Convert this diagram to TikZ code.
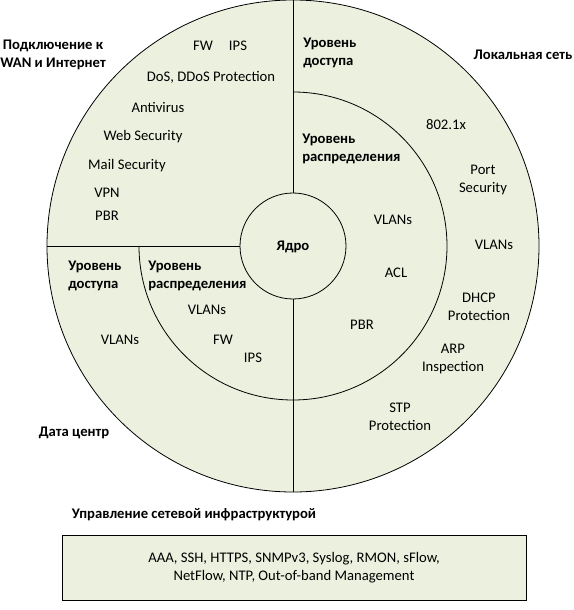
\documentclass[tikz,border=0pt]{standalone}
\usepackage{fontspec}
\setmainfont{Carlito}
\definecolor{ringfill}{RGB}{235,241,222}
\tikzset{
    lbl/.style={inner sep=0pt, align=center, font=\fontsize{11}{13.5}\selectfont},
    ttl/.style={lbl, font=\fontsize{11}{13.5}\selectfont\bfseries},
    ttlw/.style={ttl, align=left, anchor=west}
}
\begin{document}
\begin{tikzpicture}[x=0.75pt, y=0.75pt]
    \useasboundingbox (-293,-364) rectangle (281,246);

    \fill[ringfill] (0,0) circle (246);
    \draw[line width=0.6pt] (0,0) circle (246);
    \draw[line width=0.6pt] (0,154) arc[start angle=90, end angle=-180, radius=154];
    \draw[line width=0.6pt] (0,0) circle (53);
    \draw[line width=0.6pt] (-246,0) -- (-53,0);
    \draw[line width=0.6pt] (0,246) -- (0,53);
    \draw[line width=0.6pt] (0,-53) -- (0,-246);

    \node[ttl] (core) at (0,-1) {Ядро};

    \node[ttl] (wan) at (-240,191) {Подключение к\\WAN и Интернет};
    \node[lbl] (wanfw) at (-90,200) {FW};
    \node[lbl] (wanips) at (-55,200) {IPS};
    \node[lbl] (wandos) at (-82,169) {DoS, DDoS Protection};
    \node[lbl] (wanav) at (-135,139) {Antivirus};
    \node[lbl] (wanweb) at (-150,109) {Web Security};
    \node[lbl] (wanmail) at (-166,80) {Mail Security};
    \node[lbl] (wanvpn) at (-186,53) {VPN};
    \node[lbl] (wanpbr) at (-186,30) {PBR};

    \node[ttl] (lan) at (230,191) {Локальная сеть};
    \node[ttlw] (lanacc) at (10,193) {Уровень\\доступа};
    \node[ttlw] (landist) at (9,97) {Уровень\\распределения};
    \node[lbl] (landot) at (153,121) {802.1x};
    \node[lbl] (lanport) at (190,66) {Port\\Security};
    \node[lbl] (lanvlan) at (201,1) {VLANs};
    \node[lbl] (landhcp) at (186,-61) {DHCP\\Protection};
    \node[lbl] (lanarp) at (160,-113) {ARP\\Inspection};
    \node[lbl] (lanstp) at (107,-171) {STP\\Protection};
    \node[lbl] (distvlan) at (100,26) {VLANs};
    \node[lbl] (distacl) at (103,-27) {ACL};
    \node[lbl] (distpbr) at (69,-79) {PBR};

    \node[ttl] (dc) at (-219,-187) {Дата центр};
    \node[ttlw] (dcacc) at (-225,-30) {Уровень\\доступа};
    \node[ttlw] (dcdist) at (-145,-30) {Уровень\\распределения};
    \node[lbl] (dcaccvlan) at (-173,-94) {VLANs};
    \node[lbl] (dcdistvlan) at (-86,-64) {VLANs};
    \node[lbl] (dcfw) at (-70,-94) {FW};
    \node[lbl] (dcips) at (-40,-112) {IPS};

    \node[ttl] (mgmt) at (-99,-269) {Управление сетевой инфраструктурой};
    \node[lbl, draw, line width=0.6pt, fill=ringfill, minimum width=348pt, minimum height=48.75pt] (mgmtbox) at (1,-321.5)
        {AAA, SSH, HTTPS, SNMPv3, Syslog, RMON, sFlow,\\NetFlow, NTP, Out-of-band Management};
\end{tikzpicture}
\end{document}
